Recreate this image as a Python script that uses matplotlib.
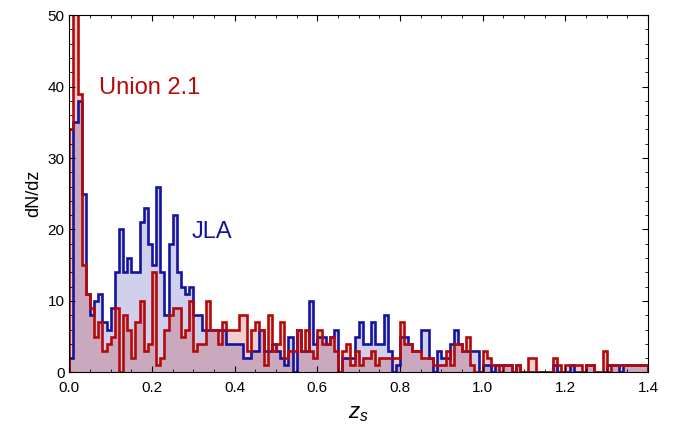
import numpy as np
import matplotlib
matplotlib.use("Agg")
import matplotlib.pyplot as plt
from matplotlib.ticker import MultipleLocator

plt.rcParams["font.family"] = ["Liberation Sans", "DejaVu Sans"]
plt.rcParams["mathtext.fontset"] = "custom"
plt.rcParams["mathtext.it"] = "Liberation Sans:italic"
plt.rcParams["mathtext.rm"] = "Liberation Sans"

# histogram bins: 0.00 .. 1.40 in steps of 0.01
bin_edges = np.round(np.arange(0, 141) * 0.01, 2)

# JLA counts per bin
jla_counts = [
    2, 35, 38, 25, 11, 8, 10, 11, 7, 6,
    9, 14, 20, 14, 16, 14, 14, 21, 23, 18,
    15, 26, 14, 8, 18, 22, 14, 12, 11, 12,
    8, 8, 6, 6, 6, 6, 6, 6, 4, 4,
    4, 4, 2, 2, 3, 3, 6, 3, 3, 4,
    3, 2, 1, 5, 0, 6, 3, 3, 10, 4,
    5, 5, 4, 5, 6, 0, 2, 2, 2, 5,
    7, 4, 4, 7, 4, 4, 8, 3, 0, 1,
    5, 5, 4, 3, 3, 6, 6, 2, 0, 3,
    2, 2, 4, 6, 4, 3, 3, 3, 3, 0,
    1, 1, 0, 1, 1, 1, 1, 0, 1, 0,
    0, 0, 0, 0, 0, 0, 0, 1, 0, 0,
    0, 1, 0, 0, 0, 1, 1, 0, 0, 0,
    1, 1, 1, 0, 1, 1, 1, 1, 1, 1,
]

# Union 2.1 counts per bin
union_counts = [
    34, 52, 39, 15, 11, 9, 5, 7, 3, 4,
    5, 9, 0, 8, 6, 2, 7, 10, 3, 4,
    14, 1, 2, 6, 8, 9, 9, 5, 6, 10,
    3, 4, 4, 10, 6, 6, 4, 7, 6, 6,
    6, 8, 8, 3, 6, 7, 6, 1, 8, 3,
    4, 7, 2, 3, 3, 6, 3, 6, 3, 2,
    6, 4, 4, 5, 3, 0, 3, 4, 1, 3,
    1, 2, 2, 3, 1, 2, 2, 2, 2, 2,
    7, 4, 4, 3, 3, 2, 2, 2, 1, 1,
    1, 3, 1, 4, 4, 3, 5, 1, 0, 0,
    3, 2, 1, 1, 0, 1, 1, 0, 1, 0,
    0, 2, 2, 0, 0, 0, 0, 2, 1, 0,
    1, 1, 1, 1, 0, 1, 1, 0, 0, 3,
    0, 1, 1, 1, 1, 1, 1, 1, 1, 1,
]

blue = "#1414a0"
red = "#b40a0a"

fig = plt.figure(figsize=(6.73, 4.34), dpi=100)
ax = fig.add_axes([0.103, 0.142, 0.860, 0.823])

# fills first, then outlines on top
ax.stairs(jla_counts, bin_edges, fill=True, color=blue, alpha=0.2, lw=0)
ax.stairs(union_counts, bin_edges, fill=True, color=red, alpha=0.2, lw=0)
ax.stairs(jla_counts, bin_edges, color=blue, lw=1.9)
ax.stairs(union_counts, bin_edges, color=red, lw=1.9)

ax.set_xlim(0, 1.4)
ax.set_ylim(0, 50)

ax.xaxis.set_major_locator(MultipleLocator(0.2))
ax.xaxis.set_minor_locator(MultipleLocator(0.05))
ax.yaxis.set_major_locator(MultipleLocator(10))
ax.yaxis.set_minor_locator(MultipleLocator(2))
ax.xaxis.set_major_formatter(lambda v, p: f"{v:.1f}")
ax.tick_params(which="both", direction="in", top=True, right=True,
               labelsize=11, colors="black")
ax.tick_params(which="major", length=4.5, width=0.8)
ax.tick_params(which="minor", length=2.5, width=0.6)
ax.tick_params(axis="x", pad=6)
for s in ax.spines.values():
    s.set_linewidth(0.8)

ax.set_xlabel("$z_s$", fontsize=16, labelpad=6)
ax.set_ylabel("dN/dz", fontsize=13, labelpad=4)

ax.text(0.073, 39.8, "Union 2.1", color=red, fontsize=17, va="center")
ax.text(0.296, 19.6, "JLA", color=blue, fontsize=17, va="center")

fig.savefig("out.png", dpi=100)
